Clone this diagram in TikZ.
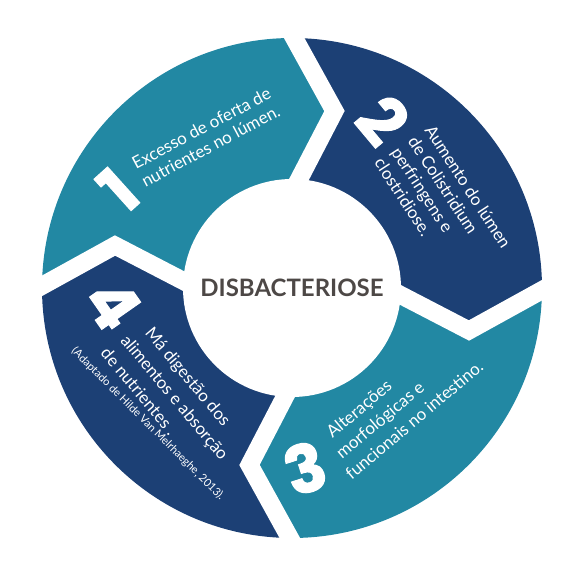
\documentclass[tikz,border=0pt]{standalone}
\usepackage{fontspec}
\setmainfont{Lato}
\newfontfamily\numfont{Poppins}[BoldFeatures={FakeBold=1.5}]
\usetikzlibrary{calc}
\definecolor{ringteal}{RGB}{34,136,163}
\definecolor{ringnavy}{RGB}{28,64,117}
\definecolor{coregray}{RGB}{77,72,70}

\begin{document}
\begin{tikzpicture}[x=1pt,y=1pt,
        gap/.style={white,line width=18,line join=miter},
        stage/.style={text=white,font=\fontsize{17}{20}\selectfont,align=left,inner sep=0pt},
        bignum/.style={text=white,font=\numfont\bfseries\fontsize{66}{66}\selectfont,inner sep=0pt}]

\useasboundingbox (-292,-291) rectangle (295,288);

\foreach \g [count=\k] in {90,0,-90,180} {
    \coordinate (o\k) at (\g-0.5:250);
    \coordinate (t\k) at (\g-13.5:182);
    \coordinate (i\k) at (\g-3.5:108);
}

\fill[ringteal] (o4) arc[start angle=179.5,end angle=89.5,radius=250] -- (t1) -- (i1)
    arc[start angle=86.5,end angle=176.5,radius=108] -- (t4) -- cycle;
\fill[ringnavy] (o1) arc[start angle=89.5,end angle=-0.5,radius=250] -- (t2) -- (i2)
    arc[start angle=-3.5,end angle=86.5,radius=108] -- (t1) -- cycle;
\fill[ringteal] (o2) arc[start angle=-0.5,end angle=-90.5,radius=250] -- (t3) -- (i3)
    arc[start angle=-93.5,end angle=-3.5,radius=108] -- (t2) -- cycle;
\fill[ringnavy] (o3) arc[start angle=-90.5,end angle=-180.5,radius=250] -- (t4) -- (i4)
    arc[start angle=-183.5,end angle=-93.5,radius=108] -- (t3) -- cycle;

\foreach \k in {1,...,4}
    \draw[gap] ($(t\k)!1.15!(o\k)$) -- (t\k) -- ($(t\k)!1.3!(i\k)$);

\node[circle,fill=white,minimum size=218,inner sep=0pt,text=coregray,
    font=\bfseries\fontsize{24}{24}\selectfont] (core) at (0,0) {DISBACTERIOSE};

\node[bignum,rotate=42] (num1) at (-174,98) {1};
\node[stage,rotate=28] (txt1) at (-86,151) {Excesso de oferta de\\nutrientes no lúmen.};

\node[bignum,rotate=-50] (num2) at (91,168) {2};
\node[stage,rotate=-57] (txt2) at (151,85)
    {Aumento do lúmen\\de Colistridium\\perfringens e\\clostridiose.};

\node[bignum,rotate=18] (num3) at (13,-180) {3};
\node[stage,rotate=40,font=\fontsize{17}{22}\selectfont] (txt3) at (108,-115)
    {\hspace*{12pt}Alterações\\\hspace*{6pt}morfológicas e\\funcionais no intestino.};

\node[bignum,rotate=-55] (num4) at (-179,-16) {4};
\node[stage,rotate=-50,font=\fontsize{17}{23.5}\selectfont] (txt4) at (-118,-108)
    {\hspace*{13pt}Má digestão dos\\\hspace*{3pt}alimentos e absorção\\de nutrientes .};
\node[stage,rotate=-45,font=\fontsize{11}{13}\selectfont] (cite) at (-144,-136)
    {(Adaptado de Hilde Van Melrhaeghe, 2013).};
\end{tikzpicture}
\end{document}
